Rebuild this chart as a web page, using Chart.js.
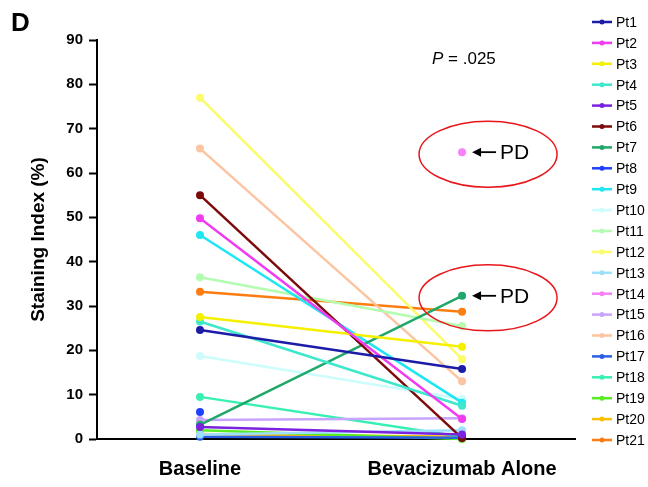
<!DOCTYPE html>
<html>
<head>
<meta charset="utf-8">
<script src="https://cdn.jsdelivr.net/npm/chart.js@4/dist/chart.umd.min.js"></script>
<style>
  html, body { margin: 0; padding: 0; background: #fff; }
  #wrap { width: 648px; height: 487px; position: relative; }
</style>
</head>
<body>
<div id="wrap"><canvas id="chart"></canvas></div>
<script>
// --- data ---
const categories = ['Baseline', 'Bevacizumab Alone'];
const patients = ['Pt1', 'Pt2', 'Pt3', 'Pt4', 'Pt5', 'Pt6', 'Pt7', 'Pt8', 'Pt9', 'Pt10', 'Pt11',
    'Pt12', 'Pt13', 'Pt14', 'Pt15', 'Pt16', 'Pt17', 'Pt18', 'Pt19', 'Pt20', 'Pt21'];
const baseline = [24.6, 49.8, 27.5, 26.5, 2.7, 55.0, 3.2, 6.1, 46.0, 18.7, 36.5,
    77.0, 1.0, null, 4.3, 65.5, 0.5, 9.5, 2.0, 1.1, 33.2];
const bevacizumab = [15.8, 4.5, 20.8, 7.5, 1.0, 0.2, 32.3, null, 8.2, 9.0, 25.5,
    18.0, 2.0, 64.7, 4.7, 13.0, 0.3, 0.5, 0.0, 0.5, 28.7];
const colors = ['#1c1ca8', '#f03cf0', '#f4f000', '#3ee8cc', '#7a22e0', '#7d0a0a', '#1fa86a',
    '#2040ff', '#1ee6f2', '#ccfcfc', '#b4fcb0', '#fcfc6a', '#9ee0fc', '#f880f8', '#c8a4fc',
    '#fcc4a0', '#2c60e4', '#38f0b4', '#58ec24', '#fcc000', '#fc7e12'];
const pdPatients = ['Pt14', 'Pt7'];
const yTicks = [0, 10, 20, 30, 40, 50, 60, 70, 80, 90];

const datasets = patients.map((p, i) => ({
    label: p,
    data: [{ x: 0, y: baseline[i] }, { x: 1, y: bevacizumab[i] }],
    borderColor: colors[i],
    backgroundColor: colors[i],
    borderWidth: 2.5,
    pointRadius: 4,
    pointHoverRadius: 4,
    pointBorderWidth: 0,
    clip: false
}));

// legend, D label, P value and PD circles
const extras = {
    id: 'extras',
    afterDraw(chart) {
        const c = chart.ctx;
        const xs = chart.scales.x, ys = chart.scales.y;
        c.save();

        c.fillStyle = '#000';
        c.font = 'bold 26px "Liberation Sans", Arial, sans-serif';
        c.textBaseline = 'alphabetic';
        c.textAlign = 'left';
        c.fillText('D', 11, 31);

        c.font = 'italic 17px "Liberation Sans", Arial, sans-serif';
        c.fillText('P', 432, 64);
        const pw = c.measureText('P').width;
        c.font = '17px "Liberation Sans", Arial, sans-serif';
        c.fillText(' = .025', 432 + pw, 64);

        // legend
        c.font = '14px "Liberation Sans", Arial, sans-serif';
        c.textBaseline = 'middle';
        chart.data.datasets.forEach((ds, i) => {
            const y = 22 + i * 20.9;
            c.strokeStyle = ds.borderColor;
            c.lineWidth = 2.5;
            c.beginPath();
            c.moveTo(592, y);
            c.lineTo(612, y);
            c.stroke();
            c.fillStyle = ds.borderColor;
            c.beginPath();
            c.arc(602, y, 2.5, 0, Math.PI * 2);
            c.fill();
            c.fillStyle = '#000';
            c.fillText(ds.label, 616, y + 1);
        });

        // PD markers
        pdPatients.forEach(p => {
            const i = patients.indexOf(p);
            const px = xs.getPixelForValue(1);
            const py = ys.getPixelForValue(bevacizumab[i]);
            c.strokeStyle = '#e8161c';
            c.lineWidth = 1.5;
            c.beginPath();
            c.ellipse(px + 26, py + 2, 69, 33, 0, 0, Math.PI * 2);
            c.stroke();

            c.strokeStyle = '#000';
            c.fillStyle = '#000';
            c.lineWidth = 1.8;
            c.beginPath();
            c.moveTo(px + 16, py);
            c.lineTo(px + 34, py);
            c.stroke();
            c.beginPath();
            c.moveTo(px + 10, py);
            c.lineTo(px + 19, py - 4.5);
            c.lineTo(px + 19, py + 4.5);
            c.closePath();
            c.fill();

            c.font = '21px "Liberation Sans", Arial, sans-serif';
            c.textBaseline = 'middle';
            c.textAlign = 'left';
            c.fillText('PD', px + 38, py + 1);
        });
        c.restore();
    }
};

new Chart(document.getElementById('chart'), {
    type: 'line',
    data: { datasets },
    options: {
        responsive: true,
        maintainAspectRatio: false,
        animation: false,
        events: [],
        layout: { padding: { left: 27, right: 73, top: 40, bottom: 0 } },
        plugins: { legend: { display: false }, tooltip: { enabled: false } },
        scales: {
            x: {
                type: 'linear',
                min: -0.393,
                max: 1.431,
                afterBuildTicks: s => { s.ticks = categories.map((_, i) => ({ value: i })); },
                afterFit: s => { s.height = 48; },
                grid: { display: false, drawTicks: false },
                border: { display: true, color: '#000', width: 2 },
                ticks: {
                    padding: 18,
                    color: '#000',
                    font: { family: '"Liberation Sans", Arial, sans-serif', size: 20, weight: 'bold' },
                    callback: v => categories[v]
                }
            },
            y: {
                min: 0,
                max: 90,
                afterBuildTicks: s => { s.ticks = yTicks.map(v => ({ value: v })); },
                afterFit: s => { s.width = 70; },
                grid: { drawOnChartArea: false, drawTicks: true, tickLength: 8, tickWidth: 2, tickColor: '#000' },
                border: { display: true, color: '#000', width: 2 },
                ticks: {
                    padding: 6,
                    color: '#000',
                    font: { family: '"Liberation Sans", Arial, sans-serif', size: 15, weight: 'bold' }
                },
                title: {
                    display: true,
                    text: 'Staining Index (%)',
                    color: '#000',
                    padding: { top: 0, bottom: 8 },
                    font: { family: '"Liberation Sans", Arial, sans-serif', size: 19, weight: 'bold' }
                }
            }
        }
    },
    plugins: [extras]
});
</script>
</body>
</html>
